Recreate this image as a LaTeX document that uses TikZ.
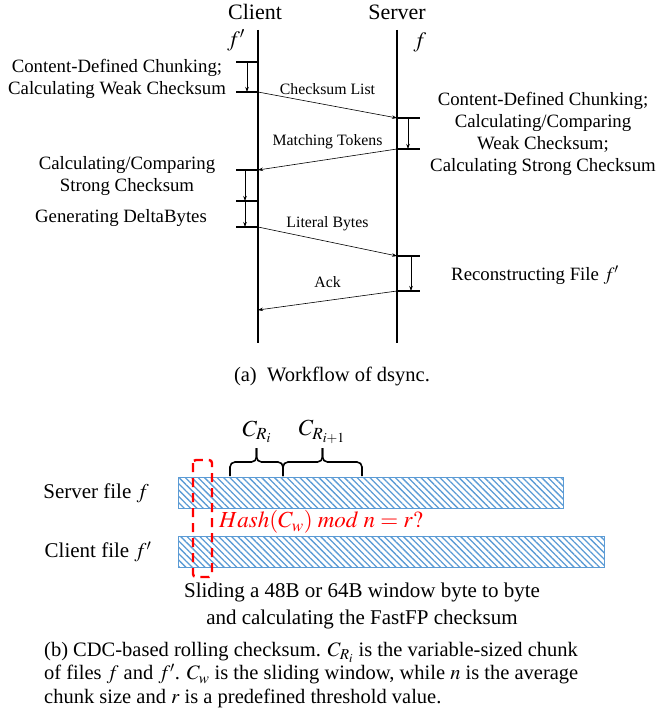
\documentclass[tikz,border=0pt]{standalone}
\usepackage{mathptmx}
\usepackage{fontspec}
\setmainfont{Liberation Serif}
\usepackage{xcolor}
\usetikzlibrary{arrows.meta,patterns.meta}
\definecolor{hatch}{RGB}{91,155,213}

\begin{document}
\begin{tikzpicture}[x=1pt,y=-1pt,>={Stealth[length=5pt,width=3.5pt]},
  life/.style={line width=2.4pt},
  tick/.style={line width=1.8pt},
  msg/.style={->,line width=0.6pt},
  lbl/.style={font=\fontsize{18.8}{22}\selectfont,align=center},
  mlbl/.style={font=\fontsize{15.8}{18}\selectfont,midway,above=7pt},
  big/.style={font=\fontsize{21}{27}\selectfont,align=center,inner sep=0pt},
  brc/.style={line width=1.6pt,rounded corners=5pt},
  bar/.style={draw=hatch,line width=0.8pt,pattern={Lines[angle=-45,distance=4.5pt,line width=1.3pt]},pattern color=hatch}]
\useasboundingbox (0,0) rectangle (656,725);
% (a) workflow
\node[font=\fontsize{22}{24}\selectfont,inner sep=0pt] (client) at (255,12) {Client};
\node[font=\fontsize{22}{24}\selectfont,inner sep=0pt] (server) at (397,12) {Server};
\node[font=\fontsize{22}{24}\selectfont,inner sep=0pt] (fc) at (236,40) {$f'$};
\node[font=\fontsize{22}{24}\selectfont,inner sep=0pt] (fs) at (420,42) {$f$};
\coordinate (c0) at (258,30); \coordinate (c1) at (258,343);
\coordinate (s0) at (397,30); \coordinate (s1) at (397,343);
\draw[life] (c0)--(c1);
\draw[life] (s0)--(s1);
\foreach \n/\y in {1/62,2/92,3/170,4/201,5/227}
  \draw[tick] (236,\y) coordinate (ct\n) -- (258,\y) coordinate (cp\n);
\foreach \n/\y in {1/118,2/149,3/256,4/291}
  \draw[tick] (397,\y) coordinate (sp\n) -- (420,\y) coordinate (st\n);
\draw[msg] ([xshift=-11pt]cp1)--([xshift=-11pt]cp2);
\draw[msg] ([xshift=-13pt]cp3)--([xshift=-13pt]cp4);
\draw[msg] ([xshift=-13pt]cp4)--([xshift=-13pt]cp5);
\draw[msg] ([xshift=11pt]sp1)--([xshift=11pt]sp2);
\draw[msg] ([xshift=14pt]sp3)--([xshift=14pt]sp4);
\coordinate (ack) at (258,310);
\draw[msg] (cp2)--(sp1) node[mlbl]{Checksum List};
\draw[msg] (sp2)--(cp3) node[mlbl]{Matching Tokens};
\draw[msg] (cp5)--(sp3) node[mlbl]{Literal Bytes};
\draw[msg] (sp4)--(ack) node[mlbl,above=2pt]{Ack};
\node[lbl] (cdc) at (117,79) {Content-Defined Chunking;\\Calculating Weak Checksum};
\node[lbl] (strong) at (127,176) {Calculating/Comparing\\Strong Checksum};
\node[lbl] (delta) at (121,218) {Generating DeltaBytes};
\node[lbl] (srv) at (543,134) {Content-Defined Chunking;\\Calculating/Comparing\\Weak Checksum;\\Calculating Strong Checksum};
\node[lbl] (rec) at (535,275) {Reconstructing File $f'$};
\node[font=\fontsize{20.5}{24}\selectfont] (capa) at (332,376) {(a)\enspace Workflow of dsync.};
% (b) rolling checksum
\node[big] (sf) at (96,493) {Server file $f$};
\node[big] (cf) at (98,552) {Client file $f'$};
\draw[bar] (178,477) rectangle (563,508);
\draw[bar] (178,536) rectangle (604,567);
\draw[red,line width=2.4pt,dash pattern=on 9pt off 6pt,rounded corners=3pt] (193,460) rectangle (212,577);
\foreach \a/\m/\b in {230/256.5/283,283/322.5/362}{
  \draw[brc] (\a,476) |- (\m,462) -- (\m,448);
  \draw[brc] (\b,476) |- (\m,462) -- (\m,448);}
\node[font=\fontsize{23}{24}\selectfont,inner sep=0pt] (cri) at (257,432) {$C_{R_i}$};
\node[font=\fontsize{23}{24}\selectfont,inner sep=0pt] (cri1) at (322,432) {$C_{R_{i+1}}$};
\node[anchor=west,red,font=\fontsize{23}{24}\selectfont,inner sep=0pt] (hash) at (219,522) {$Hash(C_w)\;mod\;n=r?$};
\node[big] (slide) at (362,606) {Sliding a 48B or 64B window byte to byte\\and calculating the FastFP checksum};
\node[anchor=west,align=left,font=\fontsize{20.5}{23.5}\selectfont,inner sep=0pt] (capb) at (44,675)
  {(b) CDC-based rolling checksum. $C_{R_i}$ is the variable-sized chunk\\
   of files $f$ and $f'$. $C_w$ is the sliding window, while $n$ is the average\\
   chunk size and $r$ is a predefined threshold value.};
\end{tikzpicture}
\end{document}
